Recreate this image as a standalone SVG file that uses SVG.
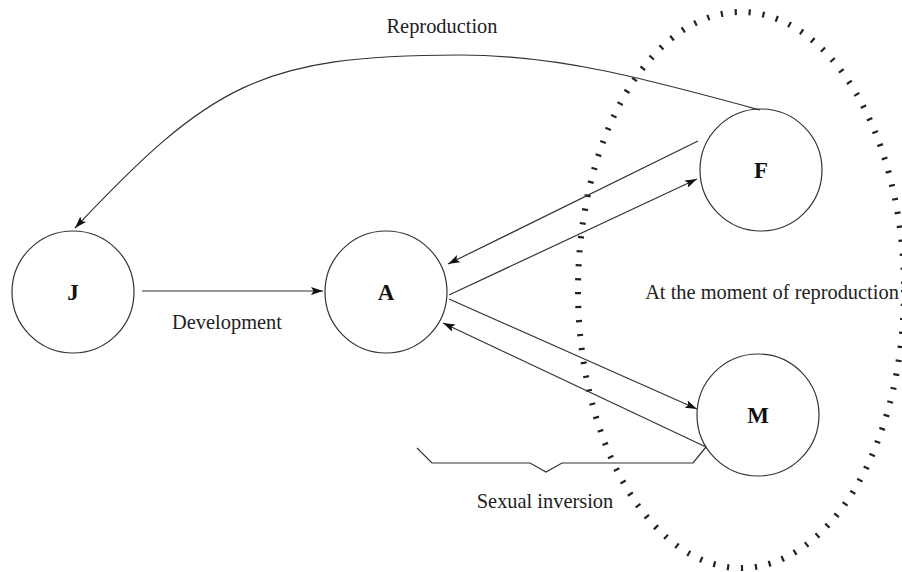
<svg xmlns="http://www.w3.org/2000/svg" width="902" height="572" viewBox="0 0 902 572">
<style>
.node{fill:none;stroke:#333;stroke-width:1.2}
.lbl{font-family:"Liberation Serif","Times New Roman",serif;font-weight:bold;font-size:23px;fill:#111;text-anchor:middle}
.txt{font-family:"Liberation Serif","Times New Roman",serif;font-size:20.4px;fill:#222;text-anchor:middle}
.edge{fill:none;stroke:#333;stroke-width:1.2}
.dots{fill:none;stroke:#222;stroke-width:6;stroke-dasharray:2.2 11.8}
</style>
<defs>
<marker id="ah" viewBox="0 0 12 8" refX="12" refY="4" markerWidth="12" markerHeight="8" markerUnits="userSpaceOnUse" orient="auto">
<path d="M0,0 L12,4 L0,8 L2.5,4 z" fill="#111"/>
</marker>
</defs>
<rect width="902" height="572" fill="#fff"/>
<ellipse class="dots" cx="741" cy="290" rx="163" ry="278"/>
<g id="connectors">
<path class="edge" d="M760,110 C650,80 560,55 460,55 C260,55 210,85 75,228" marker-end="url(#ah)"/>
<line class="edge" x1="142" y1="291" x2="323" y2="291" marker-end="url(#ah)"/>
<line class="edge" x1="698" y1="141" x2="448" y2="264" marker-end="url(#ah)"/>
<line class="edge" x1="449" y1="295" x2="697" y2="179" marker-end="url(#ah)"/>
<line class="edge" x1="449" y1="299" x2="697" y2="409" marker-end="url(#ah)"/>
<line class="edge" x1="706" y1="447" x2="443" y2="323" marker-end="url(#ah)"/>
<polyline class="edge" points="417,448 432,463 530,463 546,472 562,463 693,463 706,447"/>
</g>
<g id="J"><circle class="node" cx="73" cy="292" r="61"/><text class="lbl" x="73" y="300">J</text></g>
<g id="A"><circle class="node" cx="386" cy="292" r="61"/><text class="lbl" x="386" y="300">A</text></g>
<g id="F"><circle class="node" cx="761" cy="170" r="61"/><text class="lbl" x="761" y="178">F</text></g>
<g id="M"><circle class="node" cx="758" cy="415" r="61"/><text class="lbl" x="758" y="423">M</text></g>
<text class="txt" x="442" y="33">Reproduction</text>
<text class="txt" x="227" y="329">Development</text>
<text class="txt" x="545" y="508">Sexual inversion</text>
<text class="txt" x="772" y="299">At the moment of reproduction</text>
</svg>
